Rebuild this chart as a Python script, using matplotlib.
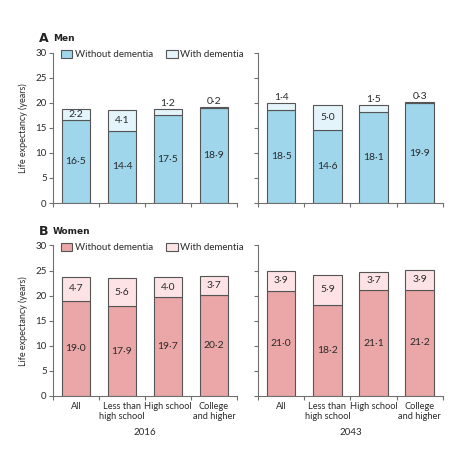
import matplotlib.pyplot as plt
from matplotlib.patches import Patch

categories = ["All", "Less than\nhigh school", "High school", "College\nand higher"]
years = ["2016", "2043"]

men_without = {"2016": [16.5, 14.4, 17.5, 18.9], "2043": [18.5, 14.6, 18.1, 19.9]}
men_with = {"2016": [2.2, 4.1, 1.2, 0.2], "2043": [1.4, 5.0, 1.5, 0.3]}
women_without = {"2016": [19.0, 17.9, 19.7, 20.2], "2043": [21.0, 18.2, 21.1, 21.2]}
women_with = {"2016": [4.7, 5.6, 4.0, 3.7], "2043": [3.9, 5.9, 3.7, 3.9]}

y_ticks = [0, 5, 10, 15, 20, 25, 30]

edge = "#555555"
axis_col = "#707070"
text_col = "#2a2a2a"
plt.rcParams['font.family'] = ['Lato', 'DejaVu Sans']
plt.rcParams['font.size'] = 7


def fmt(v):
    return f"{v:.1f}".replace(".", "\u00b7")


def draw(ax, without, withd, c_dark, c_light, show_y, show_x, year):
    x = range(len(categories))
    ax.bar(x, without, width=0.62, color=c_dark, edgecolor=edge, linewidth=0.8)
    ax.bar(x, withd, width=0.62, bottom=without, color=c_light,
           edgecolor=edge, linewidth=0.8)
    for i in x:
        ax.text(i, without[i] / 2, fmt(without[i]), ha="center", va="center",
                fontsize=7.5, color=text_col)
        top = without[i] + withd[i]
        if withd[i] < 2:
            ax.text(i, top + 0.2, fmt(withd[i]), ha="center", va="bottom",
                    fontsize=7.5, color=text_col)
        else:
            ax.text(i, without[i] + withd[i] / 2, fmt(withd[i]), ha="center",
                    va="center", fontsize=7.5, color=text_col)
    ax.set_xlim(-0.5, 3.5)
    ax.set_ylim(0, 30)
    ax.set_yticks(y_ticks)
    ax.set_xticks([-0.5, 0.5, 1.5, 2.5, 3.5], minor=True)
    ax.set_xticks(list(x))
    ax.tick_params(axis="x", which="major", length=0, pad=4)
    ax.tick_params(axis="x", which="minor", length=3, direction="out",
                   color=axis_col, width=0.8)
    ax.tick_params(axis="y", length=3, color=axis_col, width=0.8,
                   labelcolor=text_col, labelsize=7, pad=1.5)
    for s in ["top", "right"]:
        ax.spines[s].set_visible(False)
    for s in ["left", "bottom"]:
        ax.spines[s].set_color(axis_col)
        ax.spines[s].set_linewidth(0.8)
    if show_x:
        ax.set_xticklabels(categories, fontsize=6.7, color=text_col,
                           linespacing=1.25)
        ax.set_xlabel(year, fontsize=7, color=text_col, labelpad=5)
    else:
        ax.set_xticklabels([])
    if show_y:
        ax.set_ylabel("Life expectancy (years)", fontsize=6.5,
                      color=text_col, labelpad=5)
    else:
        ax.set_yticklabels([])


fig = plt.figure(figsize=(4.74, 4.74), dpi=100)
panels = [
    ("A", "Men", men_without, men_with, "#9fd6ec", "#e4f4fb", 0.5717, False),
    ("B", "Women", women_without, women_with, "#eba7a7", "#fde3e6", 0.1646, True),
]
for letter, name, wo, wi, c1, c2, bottom, show_x in panels:
    ax_l = fig.add_axes([0.1118, bottom, 0.388, 0.3175])
    ax_r = fig.add_axes([0.5443, bottom, 0.390, 0.3175])
    draw(ax_l, wo["2016"], wi["2016"], c1, c2, True, show_x, "2016")
    draw(ax_r, wo["2043"], wi["2043"], c1, c2, False, show_x, "2043")
    ax_l.legend(handles=[Patch(facecolor=c1, edgecolor=edge, linewidth=0.8,
                               label="Without dementia"),
                         Patch(facecolor=c2, edgecolor=edge, linewidth=0.8,
                               label="With dementia")],
                loc="upper left", bbox_to_anchor=(0.02, 1.045), ncol=2,
                frameon=False, fontsize=7, handlelength=1.2,
                handleheight=0.9, handletextpad=0.3, columnspacing=1.3,
                borderaxespad=0, labelcolor=text_col)
    top = bottom + 0.3175
    fig.text(0.083, top + 0.03, letter, fontsize=9, fontweight="bold",
             family="DejaVu Sans", color="#222222", va="center")
    fig.text(0.112, top + 0.03, name, fontsize=6.5, fontweight="bold",
             family="DejaVu Sans", color="#222222", va="center")

fig.savefig("out.png", dpi=100)
